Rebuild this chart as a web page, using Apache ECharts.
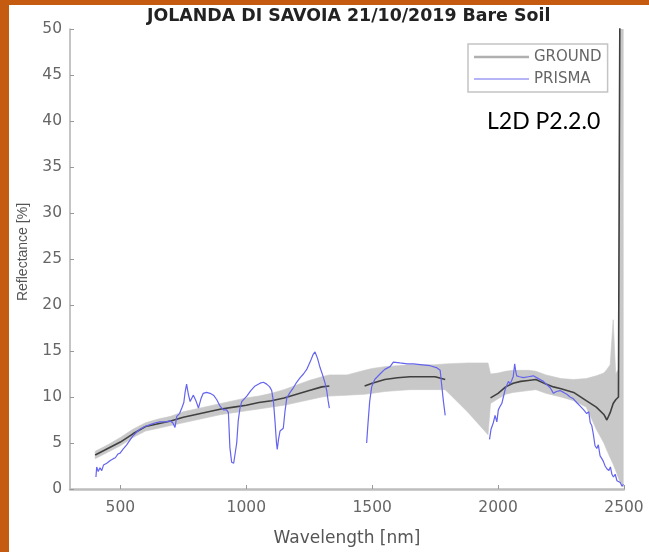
<!DOCTYPE html>
<html>
<head>
<meta charset="utf-8">
<script src="https://cdn.jsdelivr.net/npm/echarts@6/dist/echarts.min.js"></script>
<style>
  html, body { margin: 0; padding: 0; background: #ffffff; }
  #chart { width: 649px; height: 552px; }
</style>
</head>
<body>
<div id="chart"></div>
<script>
// Field (ground) spectra: wavelength [nm], mean reflectance and min/max envelope [%]
// null in the mean marks the atmospheric water-vapour gaps
const groundWl   = [400, 450, 500, 550, 600, 650, 700, 750, 800, 850, 900, 950, 1000, 1050, 1100, 1150, 1200, 1250, 1300, 1330,
                    1400, 1470, 1500, 1550, 1600, 1650, 1700, 1750, 1790, 1880, 1960,
                    1970, 2000, 2030, 2060, 2090, 2120, 2150, 2190, 2220, 2250, 2300, 2350, 2390, 2420, 2432, 2445, 2457, 2467, 2478, 2484, 2497];
const groundMean = [3.7, 4.4, 5.1, 6.0, 6.8, 7.1, 7.4, 7.8, 8.1, 8.4, 8.7, 8.9, 9.1, 9.4, 9.6, 9.9, 10.3, 10.7, 11.1, 11.2,
                    null, 11.2, 11.5, 11.9, 12.1, 12.2, 12.2, 12.2, 11.9, null, null,
                    9.9, 10.4, 11.1, 11.5, 11.7, 11.8, 11.9, 11.4, 11.1, 10.9, 10.5, 9.6, 8.9, 8.1, 7.5, 8.3, 9.3, 9.7, 10.0, 55, null];
const groundLow  = [3.3, 4.0, 4.7, 5.6, 6.3, 6.6, 6.9, 7.2, 7.5, 7.8, 8.1, 8.3, 8.5, 8.7, 8.9, 9.1, 9.4, 9.7, 10.0, 10.1,
                    10.2, 10.3, 10.4, 10.6, 10.7, 10.8, 10.8, 10.8, 10.8, 8.35, 5.9,
                    9.3, 9.8, 10.3, 10.5, 10.6, 10.7, 10.8, 10.4, 10.2, 10.0, 9.6, 8.9, 6.5, 5.0, 4.2, 3.4, 2.7, 2.0, 1.2, 0.8, 0.2];
const groundHigh = [4.1, 4.8, 5.6, 6.5, 7.2, 7.6, 7.9, 8.4, 8.7, 9.0, 9.3, 9.6, 9.9, 10.1, 10.4, 10.8, 11.3, 11.8, 12.2, 12.4,
                    12.4, 12.9, 13.1, 13.3, 13.4, 13.5, 13.5, 13.5, 13.6, 13.7, 13.7,
                    12.5, 12.6, 12.8, 12.9, 12.9, 12.9, 12.8, 12.4, 12.2, 12.0, 11.9, 12.0, 12.3, 12.6, 13.0, 13.5, 18.4, 12.5, 13.0, 60, 60];

// PRISMA L2D reflectance [%]; null = masked absorption bands
const prismaWl = [403, 406, 412, 419, 426, 433, 440, 446, 453, 460, 466, 472, 480, 490, 499, 510, 525, 540, 551, 565, 578, 598, 618, 640, 657, 680, 697, 708, 717, 724,
                  735, 744, 752, 757, 763, 770, 777, 784, 790, 800, 810, 820, 829, 842, 856, 870, 883, 896, 909, 922, 929, 935, 942, 950, 955, 962, 968, 975, 982, 992,
                  1002, 1018, 1035, 1055, 1068, 1081, 1093, 1101, 1108, 1114, 1120, 1123, 1128, 1134, 1141, 1147, 1154, 1161, 1174, 1187, 1200, 1214, 1227, 1240, 1255, 1265, 1273, 1283, 1293, 1303,
                  1313, 1320, 1325, 1330,
                  1400,
                  1478, 1483, 1490, 1498, 1510, 1531, 1550, 1571, 1584, 1610, 1640, 1664, 1700, 1730, 1755, 1770, 1776, 1783, 1790,
                  1880,
                  1966, 1972, 1981, 1988, 1995, 2001, 2008, 2015, 2021, 2028, 2035, 2041, 2048, 2054, 2060, 2066, 2070, 2074, 2085, 2101, 2120, 2140, 2160, 2180, 2195, 2207, 2220, 2232, 2246, 2260,
                  2273, 2286, 2299, 2312, 2326, 2340, 2352, 2360, 2366, 2372, 2378, 2385, 2392, 2398, 2405, 2412, 2418, 2425, 2432, 2440, 2446, 2452, 2458, 2465, 2472, 2478, 2485, 2492, 2498];
const prismaRefl = [1.3, 2.4, 1.9, 2.3, 2.0, 2.6, 2.4, 2.8, 2.6, 3.1, 2.9, 3.3, 3.4, 3.8, 3.9, 4.3, 4.8, 5.4, 5.8, 6.2, 6.5, 6.8, 7.0, 7.2, 7.3, 7.3, 7.4, 7.2, 6.7, 7.9,
                    8.2, 8.8, 9.4, 10.5, 11.4, 10.3, 9.5, 9.9, 10.2, 9.6, 8.8, 9.8, 10.4, 10.5, 10.4, 10.2, 9.7, 9.0, 8.6, 8.6, 8.3, 4.5, 2.9, 2.8, 3.0, 5.0, 7.4, 8.8, 9.5, 9.8,
                    10.1, 10.7, 11.2, 11.5, 11.6, 11.4, 11.1, 10.7, 9.5, 7.4, 5.0, 4.3, 5.4, 6.3, 6.2, 6.6, 8.5, 9.9, 10.5, 11.0, 11.6, 12.1, 12.5, 13.0, 13.9, 14.6, 14.9, 14.2, 13.2, 12.4,
                    11.5, 10.6, 9.6, 8.8,
                    null,
                    5.0, 7.0, 9.5, 11.1, 11.9, 12.5, 13.0, 13.3, 13.8, 13.7, 13.6, 13.6, 13.5, 13.4, 13.2, 12.9, 11.3, 9.5, 8.0,
                    null,
                    5.4, 6.5, 7.2, 8.0, 7.3, 8.6, 9.0, 9.3, 10.0, 10.8, 11.3, 11.7, 11.4, 11.2, 12.2, 13.6, 12.8, 12.3, 12.2, 12.1, 12.2, 12.3, 12.0, 11.7, 11.3, 11.0, 10.4, 10.6, 10.7, 10.5,
                    10.3, 10.0, 9.8, 9.4, 9.0, 8.6, 8.2, 8.4, 7.2, 6.9, 6.0, 4.7, 4.4, 4.8, 3.6, 3.3, 3.0, 2.5, 2.2, 2.0, 2.4, 1.6, 1.3, 1.6, 0.9, 1.1, 0.7, 0.3, 0.5];

// Axis ranges and tick positions
const xRange = [300, 2500];
const xTicks = [500, 1000, 1500, 2000, 2500];
const yRange = [0, 50];
const yStep = 5;

const pairs = (xs, ys) => xs.map((x, i) => [x, ys[i]]);

const chart = echarts.init(document.getElementById('chart'), null, { renderer: 'canvas' });

const tickFont = { fontFamily: 'DejaVu Sans', fontSize: 15.5, color: '#666666', formatter: v => String(v) };

// Grey envelope between min and max ground reflectance, drawn as one polygon
function renderEnvelope(params, api) {
  if (params.dataIndex !== 0) return null;
  const upper = [];
  const lower = [];
  for (let i = 0; i < groundWl.length; i++) {
    upper.push(api.coord([groundWl[i], groundHigh[i]]));
    lower.push(api.coord([groundWl[i], groundLow[i]]));
  }
  const cs = params.coordSys;
  return {
    type: 'polygon',
    shape: { points: upper.concat(lower.reverse()) },
    style: { fill: '#c8c8c8', stroke: '#c8c8c8', lineWidth: 0.6 },
    clipPath: { type: 'rect', shape: { x: cs.x, y: cs.y, width: cs.width, height: cs.height } }
  };
}

chart.setOption({
  animation: false,
  backgroundColor: '#ffffff',
  title: {
    text: 'JOLANDA DI SAVOIA 21/10/2019 Bare Soil',
    left: 147,
    top: 0,
    padding: [8, 0, 4, 0],
    textStyle: { fontFamily: 'DejaVu Sans', fontWeight: 'bold', fontSize: 17.4, color: '#222222' }
  },
  grid: { left: 70, right: 25, top: 29, bottom: 63, containLabel: false },
  legend: {
    orient: 'vertical',
    left: 468,
    top: 44,
    padding: [5, 6, 5, 6],
    itemGap: 6,
    itemWidth: 55,
    itemHeight: 16,
    itemTextGap: 6,
    borderColor: '#c4c4c4',
    borderWidth: 1.5,
    backgroundColor: '#ffffff',
    textStyle: { fontFamily: 'DejaVu Sans', fontSize: 15, color: '#666666' },
    data: [
      { name: 'GROUND', icon: 'path://M0,0M55,16M0,6.8L55,6.8L55,9.2L0,9.2Z', itemStyle: { color: '#b0b0b0', borderWidth: 0 } },
      { name: 'PRISMA', icon: 'path://M0,0M55,16M0,7.4L55,7.4L55,8.6L0,8.6Z', itemStyle: { color: '#6a6aee', borderWidth: 0 } }
    ]
  },
  xAxis: {
    type: 'value',
    min: xRange[0],
    max: xRange[1],
    name: 'Wavelength [nm]',
    nameLocation: 'middle',
    nameGap: 41,
    nameTextStyle: { fontFamily: 'DejaVu Sans', fontSize: 17, color: '#555555' },
    axisLine: { show: true, onZero: false, lineStyle: { color: '#bdbdbd', width: 2.5 } },
    axisTick: { show: true, inside: true, length: 4, customValues: xTicks, lineStyle: { color: '#999999', width: 1 } },
    axisLabel: Object.assign({ margin: 11, customValues: xTicks }, tickFont),
    splitLine: { show: false }
  },
  yAxis: {
    type: 'value',
    min: yRange[0],
    max: yRange[1],
    interval: yStep,
    name: 'Reflectance [%]',
    nameLocation: 'middle',
    nameGap: 40,
    nameTextStyle: { fontFamily: 'Liberation Sans', fontSize: 14, color: '#555555', padding: [0, 0, 0, 14] },
    axisLine: { show: true, onZero: false, lineStyle: { color: '#b0b0b0', width: 1.5 } },
    axisTick: { show: true, inside: true, length: 4, lineStyle: { color: '#999999', width: 1 } },
    axisLabel: Object.assign({ margin: 8 }, tickFont),
    splitLine: { show: false }
  },
  series: [
    {
      name: 'GROUND envelope',
      type: 'custom',
      coordinateSystem: 'cartesian2d',
      data: groundWl.map((w, i) => [w, groundLow[i], groundHigh[i]]),
      encode: { x: 0, y: [1, 2] },
      renderItem: renderEnvelope,
      silent: true,
      z: 1
    },
    {
      name: 'GROUND',
      type: 'line',
      data: pairs(groundWl, groundMean),
      symbol: 'none',
      connectNulls: false,
      color: '#b0b0b0',
      lineStyle: { color: '#404040', width: 1.6 },
      z: 2
    },
    {
      name: 'PRISMA',
      type: 'line',
      data: pairs(prismaWl, prismaRefl),
      symbol: 'none',
      connectNulls: false,
      color: '#6a6aee',
      lineStyle: { color: '#6464ee', width: 1.2 },
      z: 3
    }
  ],
  graphic: [
    {
      type: 'text',
      left: 487,
      top: 110,
      style: { text: 'L2D P2.2.0', font: '23px Lato', fill: '#000000' },
      z: 10
    },
    { type: 'rect', left: 0, top: 0, shape: { width: 9, height: 552 }, style: { fill: '#c55a11' }, z: 20 },
    { type: 'rect', left: 0, top: 0, shape: { width: 649, height: 5 }, style: { fill: '#c55a11' }, z: 20 }
  ]
});
</script>
</body>
</html>
